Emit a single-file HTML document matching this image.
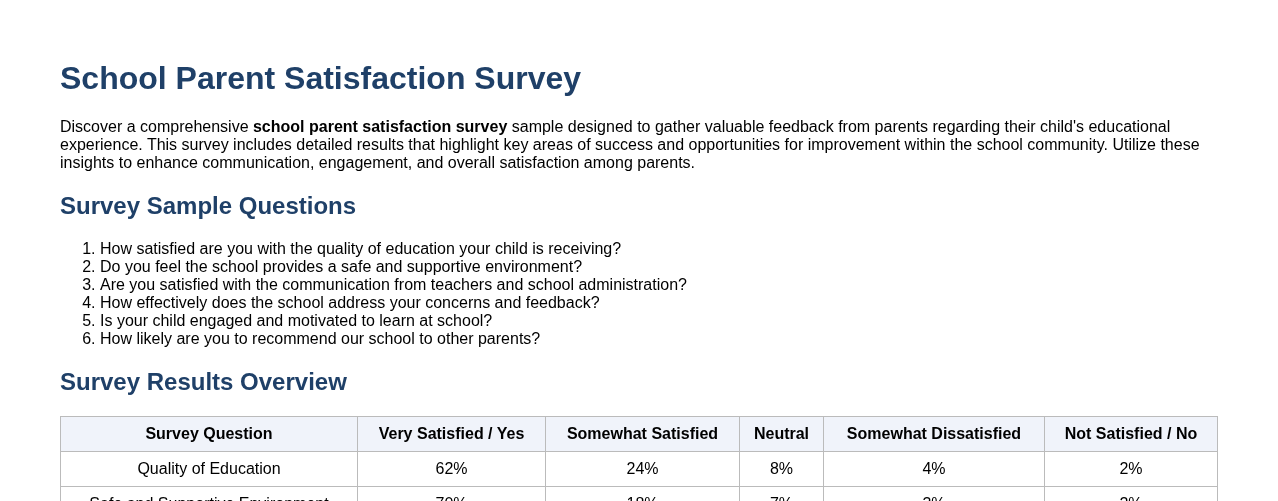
<!DOCTYPE html>
<html lang="en">
<head>
<meta charset="utf-8">
<title>School Parent Satisfaction Survey</title>
<style>
html,body{margin:0;padding:0;background:#fff;}
body{font-family:"Liberation Sans",sans-serif;font-size:16px;color:#000;padding:60px;width:1158px;overflow:hidden;}
h1{font-size:32px;color:#1f4068;margin:0 0 21px 0;font-weight:bold;line-height:37px;}
h2{font-size:24px;color:#1f4068;margin:20px 0 20px 0;font-weight:bold;line-height:28px;}
p{margin:0 0 16px 0;line-height:18px;}
ol{margin:16px 0;padding-left:40px;line-height:18px;}
table{border-collapse:collapse;width:1157px;table-layout:fixed;}
th,td{border:1px solid #bbb;padding:8px;text-align:center;line-height:18px;}
th{background:#f0f3fa;font-weight:bold;}
</style>
</head>
<body>
<h1>School Parent Satisfaction Survey</h1>
<p>Discover a comprehensive <b>school parent satisfaction survey</b> sample designed to gather valuable feedback from parents regarding their child's educational experience. This survey includes detailed results that highlight key areas of success and opportunities for improvement within the school community. Utilize these insights to enhance communication, engagement, and overall satisfaction among parents.</p>
<h2>Survey Sample Questions</h2>
<ol>
<li>How satisfied are you with the quality of education your child is receiving?</li>
<li>Do you feel the school provides a safe and supportive environment?</li>
<li>Are you satisfied with the communication from teachers and school administration?</li>
<li>How effectively does the school address your concerns and feedback?</li>
<li>Is your child engaged and motivated to learn at school?</li>
<li>How likely are you to recommend our school to other parents?</li>
</ol>
<h2>Survey Results Overview</h2>
<table>
<colgroup><col style="width:297px"><col style="width:188px"><col style="width:194px"><col style="width:84px"><col style="width:221px"><col style="width:173px"></colgroup>
<tr><th>Survey Question</th><th>Very Satisfied / Yes</th><th>Somewhat Satisfied</th><th>Neutral</th><th>Somewhat Dissatisfied</th><th>Not Satisfied / No</th></tr>
<tr><td>Quality of Education</td><td>62%</td><td>24%</td><td>8%</td><td>4%</td><td>2%</td></tr>
<tr><td>Safe and Supportive Environment</td><td>70%</td><td>18%</td><td>7%</td><td>3%</td><td>2%</td></tr>
<tr><td>Communication from Teachers</td><td>58%</td><td>26%</td><td>9%</td><td>5%</td><td>2%</td></tr>
</table>
</body>
</html>
